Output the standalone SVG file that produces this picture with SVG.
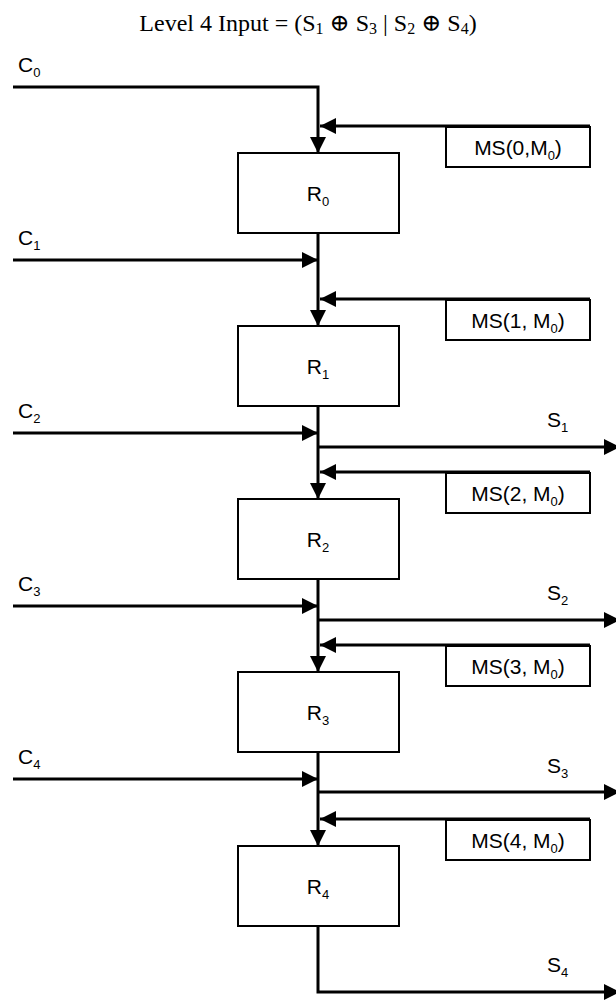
<svg xmlns="http://www.w3.org/2000/svg" width="616" height="1000" viewBox="0 0 616 1000">
<style>
.box{fill:#fff;stroke:#000;stroke-width:2}
.ln{fill:none;stroke:#000;stroke-width:3}
.lbl{font-family:"Liberation Sans",Arial,sans-serif;font-size:21px;fill:#000}
.sub{font-size:13px}
.title{font-family:"Liberation Serif","DejaVu Serif",serif;font-size:24px;fill:#000}
.tsub{font-size:16px}
</style>
<defs>
<marker id="ah" markerUnits="userSpaceOnUse" markerWidth="16" markerHeight="16" refX="16" refY="8" orient="auto">
<path d="M0,0 L16,8 L0,16 Z" fill="#000"/>
</marker>
</defs>
<rect width="616" height="1000" fill="#fff"/>
<text id="title" class="title" x="308" y="31" text-anchor="middle">Level 4 Input = (S<tspan class="tsub" dy="3">1</tspan><tspan dy="-3"> ⊕ S</tspan><tspan class="tsub" dy="3">3</tspan><tspan dy="-3"> | S</tspan><tspan class="tsub" dy="3">2</tspan><tspan dy="-3"> ⊕ S</tspan><tspan class="tsub" dy="3">4</tspan><tspan dy="-3">)</tspan></text>
<g id="connectors">
<path class="ln" d="M13,87 H318 V153" marker-end="url(#ah)"/>
<path class="ln" d="M318,233 V326" marker-end="url(#ah)"/>
<path class="ln" d="M318,406 V499" marker-end="url(#ah)"/>
<path class="ln" d="M318,579 V672" marker-end="url(#ah)"/>
<path class="ln" d="M318,752 V846" marker-end="url(#ah)"/>
<path class="ln" d="M318,926 V992 H620" marker-end="url(#ah)"/>
<path class="ln" d="M13,260 H318" marker-end="url(#ah)"/>
<path class="ln" d="M13,433 H318" marker-end="url(#ah)"/>
<path class="ln" d="M13,606 H318" marker-end="url(#ah)"/>
<path class="ln" d="M13,779 H318" marker-end="url(#ah)"/>
<path class="ln" d="M590,126 H320" marker-end="url(#ah)"/>
<path class="ln" d="M590,299 H320" marker-end="url(#ah)"/>
<path class="ln" d="M590,472 H320" marker-end="url(#ah)"/>
<path class="ln" d="M590,645 H320" marker-end="url(#ah)"/>
<path class="ln" d="M590,819 H320" marker-end="url(#ah)"/>
<path class="ln" d="M318,447 H620" marker-end="url(#ah)"/>
<path class="ln" d="M318,620 H620" marker-end="url(#ah)"/>
<path class="ln" d="M318,792 H620" marker-end="url(#ah)"/>
</g>
<g id="labels">
<text class="lbl" x="18" y="72">C<tspan class="sub" dy="5">0</tspan></text>
<text class="lbl" x="18" y="245">C<tspan class="sub" dy="5">1</tspan></text>
<text class="lbl" x="18" y="418">C<tspan class="sub" dy="5">2</tspan></text>
<text class="lbl" x="18" y="591">C<tspan class="sub" dy="5">3</tspan></text>
<text class="lbl" x="18" y="764">C<tspan class="sub" dy="5">4</tspan></text>
<text class="lbl" x="547" y="427">S<tspan class="sub" dy="5">1</tspan></text>
<text class="lbl" x="547" y="600">S<tspan class="sub" dy="5">2</tspan></text>
<text class="lbl" x="547" y="773">S<tspan class="sub" dy="5">3</tspan></text>
<text class="lbl" x="547" y="972">S<tspan class="sub" dy="5">4</tspan></text>
</g>
<g id="R0"><rect class="box" x="238" y="153" width="161" height="80"/><text class="lbl" x="318" y="201" text-anchor="middle">R<tspan class="sub" dy="5">0</tspan></text></g>
<g id="R1"><rect class="box" x="238" y="326" width="161" height="80"/><text class="lbl" x="318" y="374" text-anchor="middle">R<tspan class="sub" dy="5">1</tspan></text></g>
<g id="R2"><rect class="box" x="238" y="499" width="161" height="80"/><text class="lbl" x="318" y="547" text-anchor="middle">R<tspan class="sub" dy="5">2</tspan></text></g>
<g id="R3"><rect class="box" x="238" y="672" width="161" height="80"/><text class="lbl" x="318" y="720" text-anchor="middle">R<tspan class="sub" dy="5">3</tspan></text></g>
<g id="R4"><rect class="box" x="238" y="846" width="161" height="80"/><text class="lbl" x="318" y="894" text-anchor="middle">R<tspan class="sub" dy="5">4</tspan></text></g>
<g id="MS0"><rect class="box" x="446" y="127" width="144" height="40"/><text class="lbl" x="518" y="155" text-anchor="middle">MS(0,M<tspan class="sub" dy="5">0</tspan><tspan dy="-5">)</tspan></text></g>
<g id="MS1"><rect class="box" x="446" y="300" width="144" height="40"/><text class="lbl" x="518" y="328" text-anchor="middle">MS(1, M<tspan class="sub" dy="5">0</tspan><tspan dy="-5">)</tspan></text></g>
<g id="MS2"><rect class="box" x="446" y="473" width="144" height="40"/><text class="lbl" x="518" y="501" text-anchor="middle">MS(2, M<tspan class="sub" dy="5">0</tspan><tspan dy="-5">)</tspan></text></g>
<g id="MS3"><rect class="box" x="446" y="646" width="144" height="40"/><text class="lbl" x="518" y="674" text-anchor="middle">MS(3, M<tspan class="sub" dy="5">0</tspan><tspan dy="-5">)</tspan></text></g>
<g id="MS4"><rect class="box" x="446" y="820" width="144" height="40"/><text class="lbl" x="518" y="848" text-anchor="middle">MS(4, M<tspan class="sub" dy="5">0</tspan><tspan dy="-5">)</tspan></text></g>
</svg>
